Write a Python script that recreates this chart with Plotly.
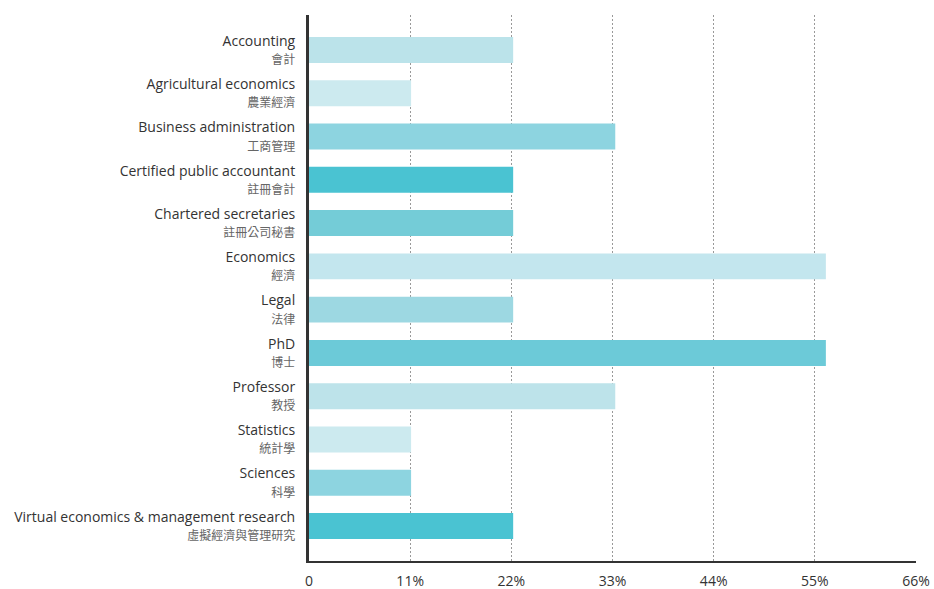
import plotly.graph_objects as go

categories_en = [
    "Accounting", "Agricultural economics", "Business administration",
    "Certified public accountant", "Chartered secretaries", "Economics",
    "Legal", "PhD", "Professor", "Statistics", "Sciences",
    "Virtual economics & management research",
]
categories_zh = [
    "會計", "農業經濟", "工商管理", "註冊會計", "註冊公司秘書", "經濟",
    "法律", "博士", "教授", "統計學", "科學", "虛擬經濟與管理研究",
]
values = [22.2, 11.1, 33.3, 22.2, 22.2, 56.2, 22.2, 56.2, 33.3, 11.1, 11.1, 22.2]
tick_vals = [0, 11, 22, 33, 44, 55, 66]
tick_text = ["0", "11%", "22%", "33%", "44%", "55%", "66%"]

bar_colors = ["#BBE3EA", "#CCEAEF", "#8DD4E0", "#4AC3D2", "#74CCD7", "#C3E6EE",
              "#9DD8E2", "#6CCAD8", "#BDE3EA", "#CCEAEF", "#8DD4E0", "#4AC3D2"]

labels = [f"{e}<br><span style='font-size:12px;color:#666'>{z}</span>"
          for e, z in zip(categories_en, categories_zh)]

fig = go.Figure(go.Bar(
    x=values, y=labels, orientation="h",
    marker=dict(color=bar_colors, line=dict(width=0)),
    hoverinfo="skip",
))

fig.update_layout(
    width=934, height=589,
    margin=dict(l=309, r=18, t=15, b=28, autoexpand=False),
    paper_bgcolor="white", plot_bgcolor="white",
    font=dict(family="Open Sans, Noto Sans CJK TC, sans-serif", size=14, color="#333"),
    bargap=0.4,
    showlegend=False,
    xaxis=dict(
        range=[0, 66], tickvals=tick_vals, ticktext=tick_text,
        showgrid=True, gridcolor="#999", griddash="2px,2px", gridwidth=1,
        showline=True, linecolor="#333", linewidth=2,
        zeroline=False, ticks="", ticklabelstandoff=6,
        tickfont=dict(size=14, color="#333"),
    ),
    yaxis=dict(
        type="category", range=[11.81, -0.81],
        showgrid=False, showline=True, linecolor="#333", linewidth=3,
        ticks="", ticklabelstandoff=8,
        tickfont=dict(size=14, color="#333"),
    ),
)

fig.write_html("out.html")
